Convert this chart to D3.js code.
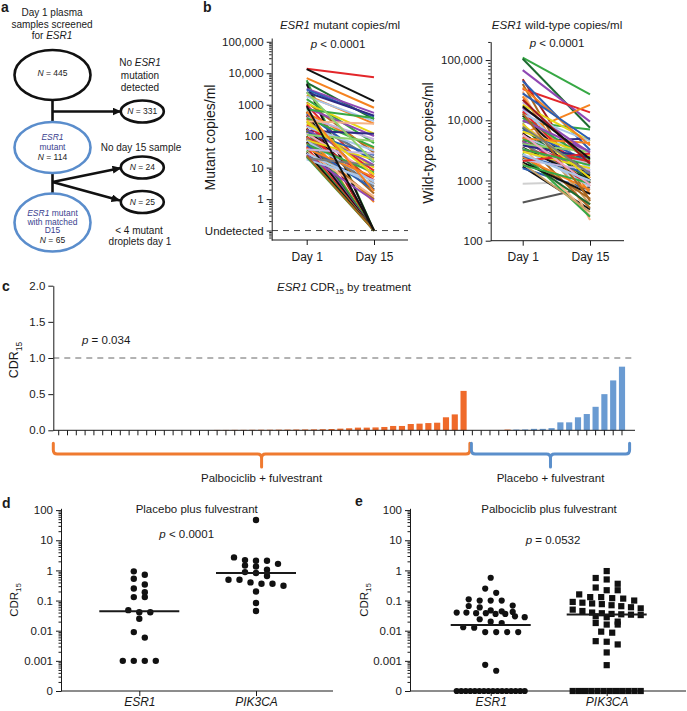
<!DOCTYPE html>
<html><head><meta charset="utf-8">
<script src="https://cdn.jsdelivr.net/npm/d3@7"></script>
<style>
body{margin:0;background:#fff}
svg{display:block}
text{font-family:"Liberation Sans",Arial,Helvetica,sans-serif;fill:#1a1a1a}
</style>
</head><body>
<svg id="c" width="687" height="711"></svg>
<script>
// ---------------- DATA ----------------
// Panel b: ESR1 mutant copies/ml (0 = undetected)
const mutDay1  = [14000,13500,7000,6000,5000,4500,3200,3000,2500,2000,1800,1500,1200,1100,1000,800,700,600,550,500,450,400,380,350,300,280,250,150,220,200,180,170,160,150,140,130,120,110,100,95,90,85,80,75,70,65,60,55,50,45,40,38,35,32,30,28,25,20,18,22,24,300,600,2500,900];
const mutDay15 = [7500,1300,800,0,350,0,550,420,450,250,300,60,30,120,5,100,380,0,40,15,0,80,45,3,250,20,10,120,8,35,0,2,12,0,1.5,25,6,70,0,4,0.8,2.5,0,18,3.5,0,1,7,2,0,5,28,0,1.2,0,3,0.9,12,4,0,0,6,1.8,15,0];
const mutColor = ['red','black','orange','green','dkgreen','black','purple','blue','navy','orange','ltblue','green','brown','yellow','red','purple','green','black','orange','blue','dkred','lavender','green','brown','peach','gray','yellow','navy','red','ltblue','orange','black','purple','green','brown','blue','pink','ltgreen','dkgreen','red','orange','gray','purple','yellow','ltblue','black','brown','green','blue','red','orange','lavender','green','peach','black','ltblue','purple','gray','ltblue','green','brown','yellow','orange','ltgreen','black'];
const mutTicks = [100000,10000,1000,100,10,1,0.1];
const mutTickLabels = ['100,000','10,000','1000','100','10','1','Undetected'];

// Panel b: ESR1 wild-type copies/ml
const wtDay1  = [110000,105000,68000,48000,33000,45000,6000,9500,4500,430,880,1700,1600,40000,30000,25000,20000,18000,15000,14000,12000,11000,10000,9000,8000,7500,7000,6500,6000,5500,5200,5000,4800,4600,4400,4200,4000,3800,3600,3500,3400,3200,3000,2800,2600,2500,2400,2300,2200,2100,2000,1900,1800,16000,12500,22000,35000,28000,8500,13000,5800,3300,17000,7800,2700];
const wtDay15 = [27000,7500,9500,900,13500,3200,18000,7000,5000,780,950,330,700,450,220,600,2500,4500,1500,1100,1000,2200,3000,400,1800,950,2000,2600,1200,1700,800,4200,2000,350,1400,900,3000,2400,260,1000,800,2100,1600,250,500,1300,700,400,1500,2800,600,300,900,2900,4500,1900,3800,4800,1100,480,850,1800,2300,1300,1000];
const wtColor = ['green','dkgreen','purple','dkred','red','blue','orange','green','navy','dkgray','ltgray','black','blue','brown','peach','orange','lavender','yellow','ltblue','red','black','green','purple','tan','pink','dkgreen','blue','yellow','black','ltblue','red','orange','green','brown','purple','gray','ltgreen','navy','peach','black','ltblue','red','yellow','green','brown','blue','orange','dkgreen','lavender','red','black','tan','green','purple','ltblue','dkred','orange','blue','yellow','brown','pink','green','black','gray','ltblue'];
const wtTicks = [100000,10000,1000,100];
const wtTickLabels = ['100,000','10,000','1000','100'];
const days = ['Day 1','Day 15'];

// Panel c: CDR15 by treatment
const cdrValues = [0,0,0,0,0,0,0,0,0,0,0,0,0,0,0,0,0,0,
  0.005,0.005,0.006,0.006,0.007,0.008,0.008,0.009,0.01,0.011,0.012,0.013,0.015,0.018,
  0.023,0.028,0.037,0.037,0.04,0.046,0.06,0.06,0.087,0.092,0.1,0.105,0.18,0.22,0.545,
  0,0,0,0,0.01,0.01,0.012,0.02,0.02,0.03,0.11,0.11,0.18,0.225,0.325,0.5,0.69,0.88];
const cdrSeries = cdrValues.map((v,i)=> (i<47 || i===51) ? 'palbo' : 'placebo');
const groupNames = ['Palbociclib + fulvestrant','Placebo + fulvestrant'];
const groupSizes = [47,18];
const cdrTicks = [0,0.5,1,1.5,2];

// Panel d: Placebo plus fulvestrant
const dESR1 = [0.72,0.93,0.53,0.25,0.34,0.19,0.13,0.13,0.041,0.041,0.048,0.025,0.009,0.0059,0.001,0.001,0.001,0.001];
const dPIK3CA = [47,2.2,2.1,2.1,2.7,1.35,1.65,1.45,0.88,0.82,1.05,0.65,0.49,0.49,0.36,0.31,0.36,0.4,0.2,0.083,0.045];
// Panel e: Palbociclib plus fulvestrant
const eESR1 = [0.57,0.25,0.18,0.11,0.1,0.1,0.1,0.068,0.059,0.066,0.044,0.04,0.038,0.036,0.03,0.024,0.028,0.036,0.038,0.04,0.042,0.047,0.018,0.02,0.0126,0.013,0.009,0.009,0.009,0.009,0.00074,0.00047,
  0,0,0,0,0,0,0,0,0,0,0,0,0,0,0,0];
const ePIK3CA = [0.95,0.56,0.5,0.36,0.27,0.22,0.22,0.16,0.13,0.13,0.12,0.116,0.10,0.09,0.085,0.08,0.076,0.07,0.065,0.06,0.055,0.05,0.045,0.04,0.038,0.036,0.035,0.034,0.033,0.03,0.028,0.02,0.018,0.016,0.016,0.0093,0.0086,0.0045,0.0043,0.0035,0.0019,0.00072,
  0,0,0,0,0,0,0,0,0,0,0,0];
const cdrLogTicks = [100,10,1,0.1,0.01,0.001,0.0001];
const cdrLogLabels = ['100','10','1','0.1','0.01','0.001','0'];
const genes = ['ESR1','PIK3CA'];

// ---------------- STYLE ----------------
const PAL = {red:'#e3262a',black:'#111111',orange:'#f5821f',green:'#36a844',dkgreen:'#1d6b30',blue:'#2b5fb3',navy:'#2e2a84',purple:'#8f47b3',gray:'#7a7a7a',dkgray:'#555555',ltgray:'#d0d0d0',ltblue:'#a9c6ea',yellow:'#e6d617',brown:'#a9661f',peach:'#f5b487',lavender:'#c4b3df',dkred:'#a0161c',pink:'#f0a3c4',ltgreen:'#8fd16d',tan:'#c9a267'};
const BAR = {palbo:'#ef6a2a', placebo:'#6a9bd2'};
const BRACE = {palbo:'#ef7a30', placebo:'#5b8fcb'};
const svg = d3.select('#c');

function txt(x,y,parts,o={}){
  const size=o.size||11.5;
  const t=svg.append('text').attr('x',x).attr('y',y).attr('text-anchor',o.anchor||'middle')
    .attr('font-size',size).style('fill',o.fill||'#1a1a1a');
  if(o.weight) t.attr('font-weight',o.weight);
  if(o.rotate) t.attr('x',0).attr('y',0).attr('transform',`translate(${x},${y}) rotate(-90)`);
  let prevSub=false;
  parts.forEach(p=>{
    if(typeof p==='string') p=[p,''];
    const ts=t.append('tspan').text(p[0]);
    if(p[1].includes('i')) ts.attr('font-style','italic');
    if(p[2]) ts.style('fill',p[2]);
    if(p[1].includes('s')){ ts.attr('font-size',size*0.68).attr('dy',size*0.3); prevSub=true; }
    else if(prevSub){ ts.attr('dy',-size*0.3); prevSub=false; }
  });
  return t;
}
function styleAxis(g){
  g.selectAll('path,line').attr('stroke','#1a1a1a').attr('stroke-width',1);
  g.selectAll('text').attr('font-size',11.5).style('fill','#1a1a1a')
   .attr('font-family','"Liberation Sans",Arial,Helvetica,sans-serif');
}
function minorLog(scale){
  const [a,b]=scale.domain(); const out=[];
  for(let e=Math.floor(Math.log10(a)); e<=Math.ceil(Math.log10(b)); e++)
    for(let m=2;m<=9;m++){ const v=m*Math.pow(10,e); if(v>=a&&v<=b) out.push(v); }
  return out;
}
function logYAxis(scale,x,ticks,labels){
  svg.append('g').attr('transform',`translate(${x},0)`)
    .call(d3.axisLeft(scale).tickValues(minorLog(scale)).tickSize(2.5).tickFormat('').tickSizeOuter(0))
    .call(g=>g.select('.domain').remove()).call(styleAxis);
  svg.append('g').attr('transform',`translate(${x},0)`)
    .call(d3.axisLeft(scale).tickValues(ticks).tickSize(5).tickPadding(3).tickSizeOuter(0)
      .tickFormat((d,i)=>labels[i])).call(styleAxis);
}
function hLine(x1,x2,y,o={}){
  return svg.append('line').attr('x1',x1).attr('x2',x2).attr('y1',y).attr('y2',y)
    .attr('stroke',o.stroke||'#1a1a1a').attr('stroke-width',o.w||1)
    .attr('stroke-dasharray',o.dash||null);
}

// ---------------- PANEL A ----------------
svg.append('defs').append('marker').attr('id','arr').attr('markerUnits','userSpaceOnUse')
  .attr('markerWidth',9).attr('markerHeight',8).attr('refX',8.5).attr('refY',4).attr('orient','auto')
  .append('path').attr('d','M0,0 L9,4 L0,8 Z').attr('fill','#111');
txt(1,12,['a'],{anchor:'start',size:14,weight:'bold'});
txt(52,15.5,['Day 1 plasma'],{size:10});
txt(52,27.5,['samples screened'],{size:10});
txt(52,38.5,['for ',['ESR1','i']],{size:10});
txt(140,66,['No ',['ESR1','i']],{size:10});
txt(140,78.5,['mutation'],{size:10});
txt(140,91,['detected'],{size:10});
txt(141,150.5,['No day 15 sample'],{size:10});
txt(139,233.5,['< 4 mutant'],{size:10});
txt(140,244.5,['droplets day 1'],{size:10});
const fc = svg.append('g');
fc.append('line').attr('x1',52.5).attr('x2',52.5).attr('y1',100).attr('y2',122).attr('stroke','#111').attr('stroke-width',2.6);
fc.append('line').attr('x1',52.5).attr('x2',121).attr('y1',111.5).attr('y2',111.5).attr('stroke','#111').attr('stroke-width',2.6).attr('marker-end','url(#arr)');
fc.append('line').attr('x1',52.5).attr('x2',52.5).attr('y1',173).attr('y2',194).attr('stroke','#111').attr('stroke-width',2.6);
fc.append('line').attr('x1',52.5).attr('x2',121).attr('y1',182).attr('y2',168).attr('stroke','#111').attr('stroke-width',2.6).attr('marker-end','url(#arr)');
fc.append('line').attr('x1',52.5).attr('x2',120).attr('y1',182).attr('y2',200.5).attr('stroke','#111').attr('stroke-width',2.6).attr('marker-end','url(#arr)');
const ell=(cx,cy,rx,ry,c)=>fc.append('ellipse').attr('cx',cx).attr('cy',cy).attr('rx',rx).attr('ry',ry)
  .attr('fill','#fff').attr('stroke',c).attr('stroke-width',2.6);
ell(52.5,75,38,25,'#111');
ell(52.5,147.5,38,25.5,'#5a8dcc');
ell(52.5,222.5,38,29,'#5a8dcc');
ell(142.3,111.5,21.5,11,'#111');
ell(142.3,167.5,21.5,11,'#111');
ell(142.3,202,21.5,11,'#111');
const NB='#3b3f8f';
txt(52.5,76,[['N','i'],' = 445'],{size:8.5});
txt(52.5,139.8,[['ESR1','i']],{size:8.5,fill:NB});
txt(52.5,149.8,['mutant'],{size:8.5,fill:NB});
txt(52.5,160.3,[['N','i'],' = 114'],{size:8.5});
txt(52.5,215.7,[['ESR1','i'],' mutant'],{size:8.5,fill:NB});
txt(52.5,224.7,['with matched'],{size:8.5,fill:NB});
txt(52.5,233.2,['D15'],{size:8.5,fill:NB});
txt(52.5,243,[['N','i'],' = 65'],{size:8.5});
txt(142.3,114.3,[['N','i'],' = 331'],{size:8.5});
txt(142.3,170.3,[['N','i'],' = 24'],{size:8.5});
txt(142.3,204.8,[['N','i'],' = 25'],{size:8.5});

// ---------------- PANEL B ----------------
txt(203,12,['b'],{anchor:'start',size:14,weight:'bold'});
// mutant
const yM = d3.scaleLog().domain([Math.pow(10,-1.3),Math.pow(10,5.12)]).range([240,38]);
const xB = d3.scaleLinear().domain([0,1]).range([306.7,374]);
const undet = v => v>0 ? v : 0.1;
hLine(272,408,yM(0.1),{stroke:'#444',dash:'6,5'});
svg.append('g').selectAll('line').data(mutDay1.map((v,i)=>({a:v,b:mutDay15[i],c:mutColor[i]})))
  .join('line').attr('x1',xB(0)).attr('x2',xB(1))
  .attr('y1',d=>yM(undet(d.a))).attr('y2',d=>yM(undet(d.b)))
  .attr('stroke',d=>PAL[d.c]).attr('stroke-width',2);
logYAxis(yM,271.7,mutTicks,mutTickLabels);
hLine(271.7,408,240);
svg.append('g').attr('transform','translate(0,240)')
  .call(d3.axisBottom(xB).tickValues([0,1]).tickSize(5).tickPadding(7).tickFormat(i=>days[i]))
  .call(g=>g.select('.domain').remove()).call(styleAxis).call(g=>g.selectAll('text').attr('font-size',12));
txt(340,28.5,[['ESR1','i'],' mutant copies/ml']);
txt(338,47.5,[['p','i'],' < 0.0001'],{size:11.5});
txt(215,137.5,['Mutant copies/ml'],{size:14,rotate:true});
// wild type
const yW = d3.scaleLog().domain([100,Math.pow(10,5.305)]).range([240.7,41.7]);
const xW = d3.scaleLinear().domain([0,1]).range([522.7,590]);
svg.append('g').selectAll('line').data(wtDay1.map((v,i)=>({a:v,b:wtDay15[i],c:wtColor[i]})))
  .join('line').attr('x1',xW(0)).attr('x2',xW(1))
  .attr('y1',d=>yW(d.a)).attr('y2',d=>yW(d.b))
  .attr('stroke',d=>PAL[d.c]).attr('stroke-width',2);
logYAxis(yW,490.7,wtTicks,wtTickLabels);
hLine(490.7,624,240.7);
svg.append('g').attr('transform','translate(0,240.7)')
  .call(d3.axisBottom(xW).tickValues([0,1]).tickSize(5).tickPadding(7).tickFormat(i=>days[i]))
  .call(g=>g.select('.domain').remove()).call(styleAxis).call(g=>g.selectAll('text').attr('font-size',12));
txt(557,28.5,[['ESR1','i'],' wild-type copies/ml']);
txt(557,47,[['p','i'],' < 0.0001'],{size:11.5});
txt(433,143,['Wild-type copies/ml'],{size:14,rotate:true});

// ---------------- PANEL C ----------------
txt(2,291,['c'],{anchor:'start',size:14,weight:'bold'});
const yC = d3.scaleLinear().domain([0,2]).range([430.3,285.7]);
const xC = d3.scaleBand().domain(d3.range(cdrValues.length)).range([55.62,625.08]).paddingInner(0.3);
svg.append('g').selectAll('rect').data(cdrValues.map((v,i)=>({v,i,s:cdrSeries[i]}))).join('rect')
  .attr('x',d=>xC(d.i)).attr('width',xC.bandwidth())
  .attr('y',d=>yC(d.v)).attr('height',d=>yC(0)-yC(d.v))
  .attr('fill',d=>BAR[d.s]);
hLine(53.3,635,yC(1),{stroke:'#666',dash:'6,5'});
svg.append('g').attr('transform','translate(53.3,0)')
  .call(d3.axisLeft(yC).tickValues(cdrTicks).tickSize(5).tickPadding(3).tickSizeOuter(0).tickFormat(d3.format('.1f')))
  .call(styleAxis);
hLine(53.3,635,430.3);
svg.append('g').attr('transform','translate(0,430.3)')
  .call(d3.axisBottom(xC).tickSize(5).tickFormat(''))
  .call(g=>g.select('.domain').remove()).call(styleAxis);
txt(344,291,[['ESR1','i'],' CDR',['15','s'],' by treatment']);
txt(82,344,[['p','i'],' = 0.034'],{anchor:'start'});
txt(18,360,['CDR',['15','s']],{size:12.5,rotate:true});
// braces
const cx = i => xC(i)+xC.bandwidth()/2;
const braceX = [[53.3, cx(groupSizes[0]-1)+6.3],[cx(groupSizes[0])-1, cx(cdrValues.length-1)+7.6]];
const braceKeys = ['palbo','placebo'];
braceX.forEach(([x0,x1],k)=>{
  const m=(x0+x1)/2, yT=443.3, yH=454, yB=467;
  const p=d3.path();
  p.moveTo(x0,yT); p.lineTo(x0,yH-4); p.quadraticCurveTo(x0,yH,x0+4,yH);
  p.lineTo(m-4,yH); p.quadraticCurveTo(m,yH,m,yH+4); p.lineTo(m,yB);
  p.moveTo(m,yH+4); p.quadraticCurveTo(m,yH,m+4,yH);
  p.lineTo(x1-4,yH); p.quadraticCurveTo(x1,yH,x1,yH-4); p.lineTo(x1,yT);
  svg.append('path').attr('d',p.toString()).attr('fill','none').attr('stroke',BRACE[braceKeys[k]])
    .attr('stroke-width',3).attr('stroke-linecap','round');
  txt(m,481.5,[groupNames[k]]);
});

// ---------------- PANELS D & E ----------------
function rowLayout(values, y, cx, sp, maxW, h){
  const pts = values.map(v=>({v, y:y(v>0?v:1e-4)})).sort((a,b)=>a.y-b.y);
  const out=[]; let row=[];
  const place=r=>{const n=r.length; const s=n>1?Math.min(sp,maxW/(n-1)):0;
    r.forEach((p,k)=>{p.x=cx+(k-(n-1)/2)*s; out.push(p);});};
  pts.forEach(p=>{ if(row.length && p.y-row[0].y>=h){place(row); row=[];} row.push(p); });
  if(row.length) place(row);
  return out;
}
function scatterPanel(o){
  const y = d3.scaleLog().domain([1e-4,Math.pow(10,2.06)]).range([691,508.3]);
  const x = d3.scaleLinear().domain([0,1]).range(o.xr);
  logYAxis(y,o.ax,cdrLogTicks,cdrLogLabels);
  hLine(o.ax,o.axEnd,691);
  svg.append('g').attr('transform','translate(0,691)')
    .call(d3.axisBottom(x).tickValues([0,1]).tickSize(5).tickPadding(1.5).tickFormat(i=>genes[i]))
    .call(g=>g.select('.domain').remove()).call(styleAxis)
    .call(g=>g.selectAll('text').attr('font-style','italic').attr('font-size',12));
  o.sets.forEach((vals,k)=>{
    const pts=rowLayout(vals,y,x(k),11,o.maxW,6.5);
    const g=svg.append('g');
    if(o.shapes[k]==='sq') g.selectAll('rect').data(pts).join('rect')
        .attr('x',d=>d.x-3.1).attr('y',d=>d.y-3.1).attr('width',6.2).attr('height',6.2).attr('fill','#111');
    else g.selectAll('circle').data(pts).join('circle')
        .attr('cx',d=>d.x).attr('cy',d=>d.y).attr('r',o.r).attr('fill','#111');
    const med=d3.median(vals);
    hLine(x(k)-40,x(k)+40,y(med>0?med:1e-4),{w:2});
  });
}
txt(2,508,['d'],{anchor:'start',size:14,weight:'bold'});
scatterPanel({xr:[139.3,256],ax:61,axEnd:333,sets:[dESR1,dPIK3CA],shapes:['c','c'],r:3.2,maxW:75});
txt(196.7,512.5,['Placebo plus fulvestrant']);
txt(186.7,537.5,[['p','i'],' < 0.0001']);
txt(18,600,['CDR',['15','s']],{size:11.5,rotate:true});

txt(355,506,['e'],{anchor:'start',size:14,weight:'bold'});
scatterPanel({xr:[490.7,606.7],ax:410,axEnd:686,sets:[eESR1,ePIK3CA],shapes:['c','sq'],r:3.1,maxW:68});
txt(549,512.5,['Palbociclib plus fulvestrant']);
txt(553,543.5,[['p','i'],' = 0.0532']);
txt(368,600,['CDR',['15','s']],{size:11.5,rotate:true});
</script>
</body></html>
